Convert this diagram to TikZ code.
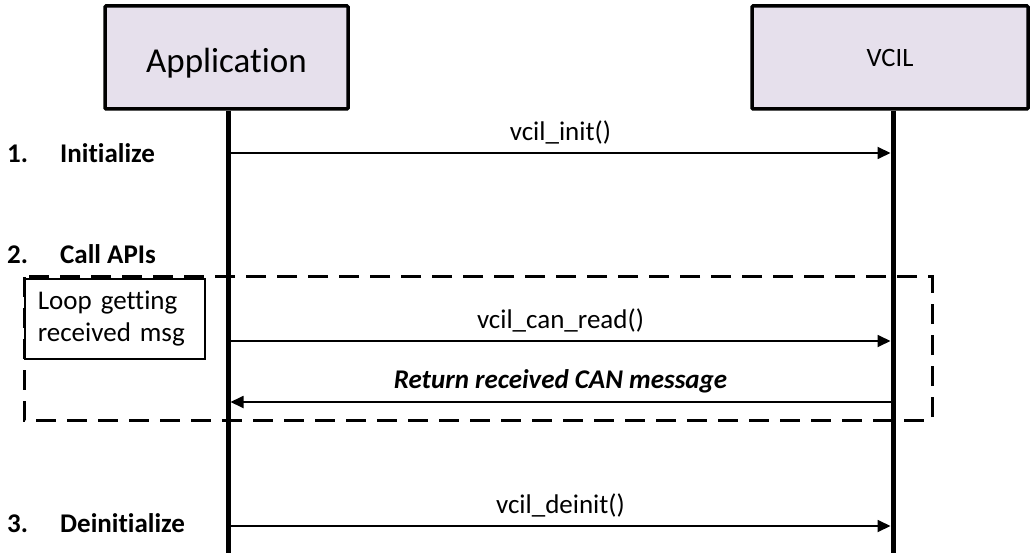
\documentclass[tikz,border=0pt]{standalone}
\usepackage{fontspec}
\setmainfont[Ligatures={NoCommon}]{Carlito}
\usepackage{xcolor}
\usetikzlibrary{arrows.meta}
\definecolor{lanefill}{HTML}{E6E0EC}
\def\appx{228}
\def\vcilx{893}
\def\seqbottom{553}

\begin{document}
\begin{tikzpicture}[x=1pt, y=-1pt,
		lane/.style={draw, line width=3.5pt, fill=lanefill, rounded corners=1pt},
		lifeline/.style={line width=5pt},
		msg/.style={line width=1.8pt, -{Triangle[length=13pt,width=12pt]}, shorten <=2.5pt, shorten >=2.5pt},
		msglabel/.style={above=5pt, font=\fontsize{27}{32}\selectfont},
		steplabel/.style={anchor=base west, inner sep=0pt, font=\fontsize{27}{32}\selectfont\bfseries},
	]
	\useasboundingbox (0,0) rectangle (1033,553);

	% participants
	\node[lane, minimum width=243pt, minimum height=103pt, text height=30pt, text depth=0pt,
		font=\fontsize{35}{40}\selectfont] (app) at (226.5,57.5) {Application};
	\node[lane, minimum width=276pt, minimum height=103pt, font=\fontsize{26.5}{30}\selectfont] (vcil) at (890,57.5) {VCIL};

	% loop frame
	\draw[line width=3pt, dash pattern=on 20pt off 11pt] (24,277) rectangle (932,420);
	\node[draw, line width=1.6pt, fill=white, anchor=north west, minimum height=80pt,
		text width=154pt, inner xsep=13pt, align=left, font=\fontsize{27}{32}\selectfont] (loopnote) at (24,278)
		{Loop getting\\received msg};

	% lifelines
	\coordinate (append) at (\appx,\seqbottom);
	\coordinate (vcilend) at (\vcilx,\seqbottom);
	\draw[lifeline] (app.south -| append) -- (append);
	\draw[lifeline] (vcil.south -| vcilend) -- (vcilend);

	% steps
	\node[steplabel] (step1) at (7,163) {\makebox[53pt][l]{1.}Initialize};
	\node[steplabel] (step2) at (7,264) {\makebox[53pt][l]{2.}Call APIs};
	\node[steplabel] (step3) at (7,532) {\makebox[53pt][l]{3.}Deinitialize};

	% messages
	\coordinate (a1) at (\appx,153);   \coordinate (v1) at (\vcilx,153);
	\coordinate (a2) at (\appx,341);   \coordinate (v2) at (\vcilx,341);
	\coordinate (a3) at (\appx,402);   \coordinate (v3) at (\vcilx,402);
	\coordinate (a4) at (\appx,526);   \coordinate (v4) at (\vcilx,526);
	\draw[msg] (a1) -- (v1) node[midway, msglabel] {vcil\_init()};
	\draw[msg] (a2) -- (v2) node[midway, msglabel] {vcil\_can\_read()};
	\draw[msg] (v3) -- (a3) node[midway, msglabel, font=\fontsize{27}{32}\selectfont\bfseries\itshape] {Return received CAN message};
	\draw[msg] (a4) -- (v4) node[midway, msglabel] {vcil\_deinit()};
\end{tikzpicture}
\end{document}
